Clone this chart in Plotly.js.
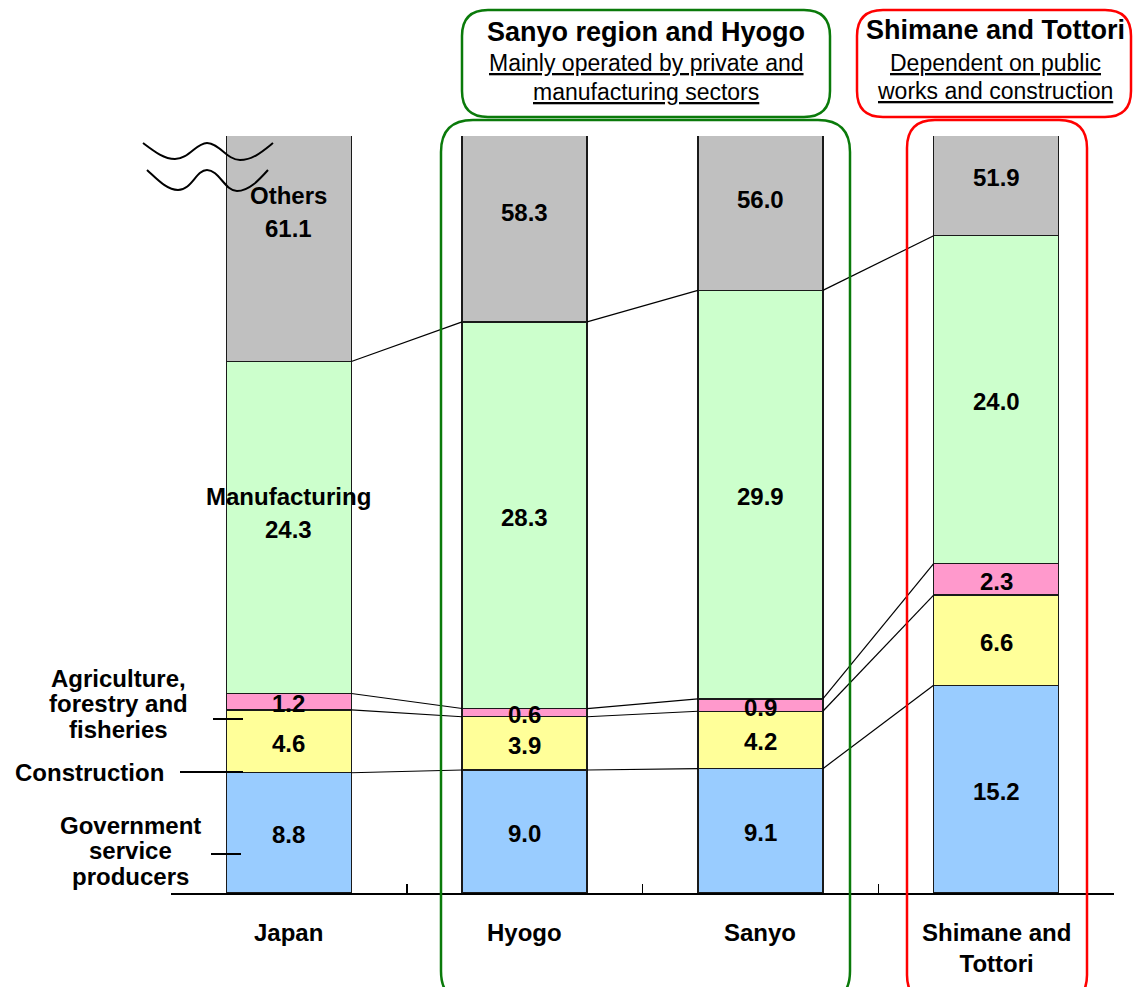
<!DOCTYPE html>
<html>
<head>
<meta charset="utf-8">
<script src="https://cdn.plot.ly/plotly-3.0.1.min.js"></script>
<style>
  html, body { margin: 0; padding: 0; background: #fff; }
  #chart { width: 1133px; height: 987px; }
</style>
</head>
<body>
<div id="chart"></div>
<script>
// Composition of output by sector (%), stacked from the bottom up
const categories    = ['Japan', 'Hyogo', 'Sanyo', 'Shimane and<br>Tottori'];
const government    = [8.8, 9.0, 9.1, 15.2];
const construction  = [4.6, 3.9, 4.2, 6.6];
const agriculture   = [1.2, 0.6, 0.9, 2.3];
const manufacturing = [24.3, 28.3, 29.9, 24.0];
const others        = [61.1, 58.3, 56.0, 51.9];

const sectorColors = ['#99CCFF', '#FFFF99', '#FF99CC', '#CCFFCC', '#C0C0C0'];
const sideLabels = [
  ['Agriculture,', 'forestry and', 'fisheries'],
  ['Construction'],
  ['Government', 'service', 'producers']
];
const groupTitles = ['Sanyo region and Hyogo', 'Shimane and Tottori'];
const groupNotes  = [
  ['Mainly operated by private and', 'manufacturing sectors'],
  ['Dependent on public', 'works and construction']
];

// ---- geometry ----
const W = 1133, H = 987;
const M = { l: 171, r: 19, t: 136, b: 94 };
const PW = W - M.l - M.r, PH = H - M.t - M.b;
const YMAX = 55.4;        // axis is cut off above this level
const BAR_W = 0.53;
const FONT = 'Liberation Sans, Arial, sans-serif';

// pixel -> paper helpers for decorations
const PX = x => (x - M.l) / PW;
const PY = y => (H - M.b - y) / PH;
function path(cmds) {
  return cmds.map(c => c[0] + ' ' + c.slice(1).map(p => PX(p[0]).toFixed(5) + ',' + PY(p[1]).toFixed(5)).join(' ')).join(' ');
}
function roundRect(x0, y0, x1, y1, r) {
  return path([
    ['M', [x0 + r, y0]], ['L', [x1 - r, y0]], ['Q', [x1, y0], [x1, y0 + r]],
    ['L', [x1, y1 - r]], ['Q', [x1, y1], [x1 - r, y1]],
    ['L', [x0 + r, y1]], ['Q', [x0, y1], [x0, y1 - r]],
    ['L', [x0, y0 + r]], ['Q', [x0, y0], [x0 + r, y0]]
  ]) + ' Z';
}

const xs = categories.map((_, i) => i);
const series = [government, construction, agriculture, manufacturing, others];

// cumulative bases
const bases = [];
series.forEach((s, k) => {
  bases.push(s.map((v, i) => k === 0 ? 0 : bases[k - 1][i] + series[k - 1][i]));
});
const tops = series.map((s, k) => s.map((v, i) => bases[k][i] + v));
// label level: segment middle, or inside the visible part of the cut-off top segment
const labelY = (k, i) => k < series.length - 1
  ? bases[k][i] + series[k][i] / 2
  : bases[k][i] + (YMAX - bases[k][i]) * 0.6;

const traces = series.map((s, k) => ({
  type: 'bar', x: xs, y: s, width: BAR_W,
  marker: { color: sectorColors[k], line: { color: '#1a1a1a', width: 1.4 } },
  hoverinfo: 'skip'
}));

// connector lines between neighbouring bars at each segment boundary
const cx = [], cy = [];
for (let k = 0; k < series.length - 1; k++) {
  for (let i = 0; i < xs.length - 1; i++) {
    cx.push(xs[i] + BAR_W / 2, xs[i + 1] - BAR_W / 2, null);
    cy.push(tops[k][i], tops[k][i + 1], null);
  }
}
traces.push({
  type: 'scatter', mode: 'lines', x: cx, y: cy,
  line: { color: '#000', width: 1.2 }, hoverinfo: 'skip', cliponaxis: false
});

const annotations = [];

// value labels on every segment
series.forEach((s, k) => {
  s.forEach((v, i) => {
    annotations.push({
      xref: 'x', yref: 'y', x: xs[i], y: labelY(k, i), yshift: -2, showarrow: false,
      text: '<b>' + v.toFixed(1) + '</b>', font: { family: FONT, size: 24, color: '#000' }
    });
  });
});

// sector names written on the first bar
[[3, 'Manufacturing'], [4, 'Others']].forEach(([k, name]) => {
  annotations.push({
    xref: 'x', yref: 'y', x: xs[0], y: labelY(k, 0), yshift: 31, showarrow: false,
    text: '<b>' + name + '</b>', font: { family: FONT, size: 24, color: '#000' }
  });
});

// category labels under the axis
categories.forEach((c, i) => {
  annotations.push({
    xref: 'x', yref: 'paper', x: xs[i], y: PY(917), yanchor: 'top', showarrow: false,
    text: '<b>' + c + '</b>', font: { family: FONT, size: 24, color: '#000' }
  });
});

// labels at the left of the first bar, one annotation per line
const sideSpec = [
  { cx: 118, y0: 678, dy: 25.5 },
  { cx: 89,  y0: 772, dy: 25.5 },
  { cx: 130, y0: 825, dy: 25.5 }
];
sideLabels.forEach((lines, j) => {
  lines.forEach((ln, n) => {
    annotations.push({
      xref: 'paper', yref: 'paper', x: PX(sideSpec[j].cx), y: PY(sideSpec[j].y0 + n * sideSpec[j].dy),
      xanchor: 'center', yanchor: 'middle', showarrow: false,
      text: '<b>' + ln + '</b>', font: { family: FONT, size: 24, color: '#000' }
    });
  });
});

// group headers
const headSpec = [{ cx: 646, y: [32, 63, 92] }, { cx: 995, y: [30, 63, 91] }];
groupTitles.forEach((t, g) => {
  annotations.push({
    xref: 'paper', yref: 'paper', x: PX(headSpec[g].cx), y: PY(headSpec[g].y[0]),
    xanchor: 'center', yanchor: 'middle', showarrow: false,
    text: '<b>' + t + '</b>', font: { family: FONT, size: 27, color: '#000' }
  });
  groupNotes[g].forEach((ln, n) => {
    annotations.push({
      xref: 'paper', yref: 'paper', x: PX(headSpec[g].cx), y: PY(headSpec[g].y[n + 1]),
      xanchor: 'center', yanchor: 'middle', showarrow: false,
      text: '<u>' + ln + '</u>', font: { family: FONT, size: 23, color: '#000' }
    });
  });
});

const GREEN = '#0A7A0A', RED = '#FF0000';
const shapes = [
  // group frames
  { type: 'path', xref: 'paper', yref: 'paper', path: roundRect(462, 10, 830, 117, 26), line: { color: GREEN, width: 2.5 } },
  { type: 'path', xref: 'paper', yref: 'paper', path: roundRect(441, 120, 850, 1003, 32), line: { color: GREEN, width: 2.5 } },
  { type: 'path', xref: 'paper', yref: 'paper', path: roundRect(857, 10, 1131, 117, 26), line: { color: RED, width: 2.5 } },
  { type: 'path', xref: 'paper', yref: 'paper', path: roundRect(907, 120, 1087, 1003, 28), line: { color: RED, width: 2.5 } },
  // axis-break waves
  { type: 'path', xref: 'paper', yref: 'paper', line: { color: '#000', width: 2 },
    path: path([['M', [143, 143]], ['C', [155, 152], [164, 159], [175, 159]], ['C', [189, 159], [196, 143], [207, 143]],
                ['C', [219, 143], [227, 160], [240, 160]], ['C', [253, 160], [263, 151], [273, 143]]]) },
  { type: 'path', xref: 'paper', yref: 'paper', line: { color: '#000', width: 2 },
    path: path([['M', [147, 170]], ['C', [158, 180], [167, 190], [178, 190]], ['C', [192, 190], [196, 170], [207, 170]],
                ['C', [219, 170], [225, 191], [237, 191]], ['C', [249, 191], [259, 180], [268, 170]]]) },
  // leader ticks for the side labels
  { type: 'line', xref: 'paper', yref: 'paper', x0: PX(213), x1: PX(243), y0: PY(719), y1: PY(719), line: { color: '#000', width: 2 } },
  { type: 'line', xref: 'paper', yref: 'paper', x0: PX(180), x1: PX(243), y0: PY(772), y1: PY(772), line: { color: '#000', width: 2 } },
  { type: 'line', xref: 'paper', yref: 'paper', x0: PX(211), x1: PX(241), y0: PY(854), y1: PY(854), line: { color: '#000', width: 2 } }
];

const boundaries = [-0.5].concat(xs.map(i => i + 0.5));

const layout = {
  width: W, height: H,
  margin: M,
  barmode: 'stack',
  bargap: 0,
  showlegend: false,
  hovermode: false,
  paper_bgcolor: '#fff', plot_bgcolor: '#fff',
  xaxis: {
    range: [-0.5, xs.length - 0.5], showgrid: false, zeroline: false,
    showline: true, linecolor: '#000', linewidth: 1.5,
    ticks: 'inside', tickvals: boundaries, ticklen: 9, tickwidth: 1.5, tickcolor: '#000',
    showticklabels: false, fixedrange: true
  },
  yaxis: { range: [0, YMAX], visible: false, fixedrange: true },
  annotations: annotations,
  shapes: shapes
};

Plotly.newPlot('chart', traces, layout, { displayModeBar: false, staticPlot: true });
</script>
</body>
</html>
